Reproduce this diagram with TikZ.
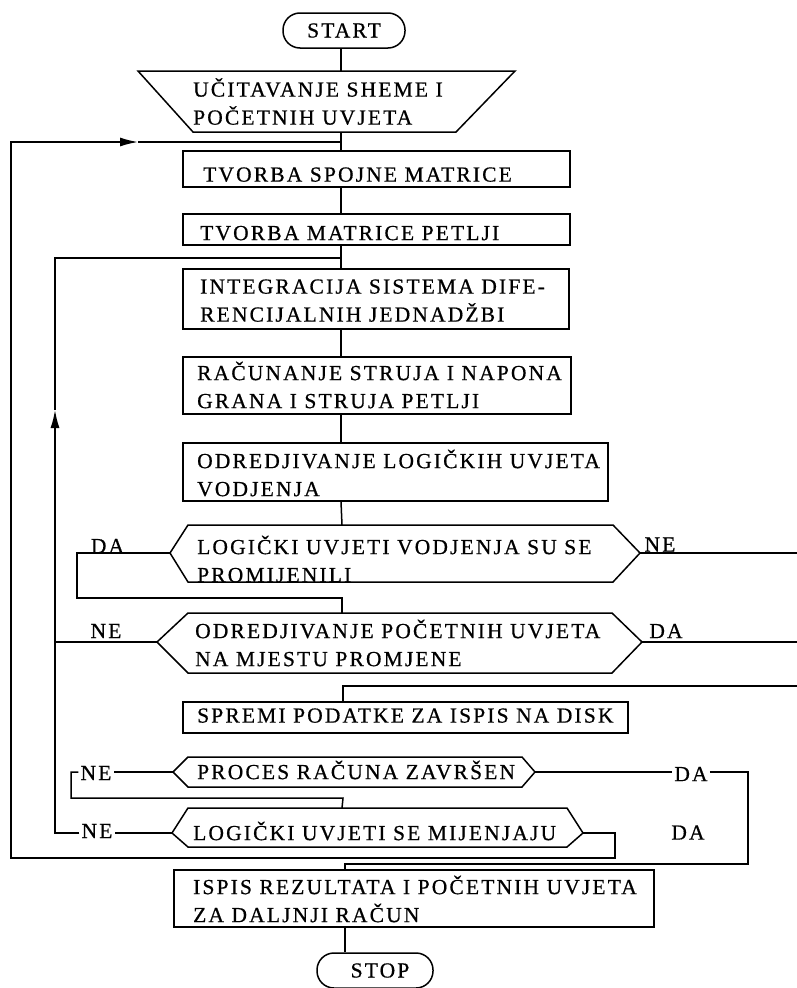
\documentclass[tikz,border=0pt]{standalone}
\usepackage{fontspec}
\setmainfont{Liberation Serif}[LetterSpace=10,FakeBold=0.6]
\usetikzlibrary{arrows.meta}
\newcommand\hexshape[8]{%
  \draw[shapeline] (#5,#4) -- (#6,#2) -- (#7,#2) -- (#8,#4) -- (#7,#3) -- (#6,#3) -- cycle;
  \coordinate (#1-w) at (#5,#4);
  \coordinate (#1-e) at (#8,#4);
  \coordinate (#1-n) at (342,#2);
  \coordinate (#1-s) at (342,#3);}
\begin{document}
\begin{tikzpicture}[x=1pt,y=-1pt,
  shapeline/.style={line width=1.5pt, line join=miter},
  box/.style={draw, line width=1.5pt, inner sep=0pt, rectangle},
  term/.style={draw, line width=1.5pt, rounded corners=17pt, inner sep=0pt, font=\fontsize{21.5}{28}\selectfont},
  conn/.style={line width=1.5pt},
  txt/.style={font=\fontsize{21.5}{28}\selectfont, align=left, anchor=west, inner sep=0pt},
  lab/.style={font=\fontsize{21.5}{28}\selectfont, inner sep=2pt},
  arrowend/.style={-{Latex[length=18pt,width=9pt]}}]
\useasboundingbox (0,0) rectangle (796,988);
\fill[white] (0,0) rectangle (796,988);
\coordinate (mx) at (341,0);
\coordinate (mx2) at (343,0);
\coordinate (mx3) at (345,0);

% shapes
\node[term, minimum width=122pt, minimum height=35pt] (start) at (344,30.5) {START};
\draw[shapeline] (138,71) -- (515,71) -- (456,132) -- (193,132) -- cycle;
\coordinate (in-n) at (341,71);
\coordinate (in-s) at (341,132);
\node[txt] (tin) at (193,105) {\strut UČITAVANJE SHEME I\\\strut POČETNIH UVJETA};

\node[box, minimum width=387pt, minimum height=36pt] (b1) at (376.5,169) {};
\node[txt] (tb1) at (203,176) {\strut TVORBA SPOJNE MATRICE};
\node[box, minimum width=387pt, minimum height=31pt] (b2) at (376.5,229.5) {};
\node[txt] (tb2) at (200,234.5) {\strut TVORBA MATRICE PETLJI};
\node[box, minimum width=386pt, minimum height=60pt] (b3) at (376,299) {};
\node[txt] (tb3) at (200,302) {\strut INTEGRACIJA SISTEMA DIFE-\\\strut RENCIJALNIH JEDNADŽBI};
\node[box, minimum width=388pt, minimum height=57pt] (b4) at (377,385.5) {};
\node[txt] (tb4) at (197,388.5) {\strut RAČUNANJE STRUJA I NAPONA\\\strut GRANA I STRUJA PETLJI};
\node[box, minimum width=425pt, minimum height=58pt] (b5) at (395.5,472) {};
\node[txt] (tb5) at (197,476.5) {\strut ODREDJIVANJE LOGIČKIH UVJETA\\\strut VODJENJA};
\hexshape{d1}{525}{582}{553}{170}{188}{613}{640}
\node[txt] (td1) at (197,562.5) {\strut LOGIČKI UVJETI VODJENJA SU SE\\\strut PROMIJENILI};
\hexshape{d2}{613}{673}{642}{157}{188}{612}{642}
\node[txt] (td2) at (195,646.5) {\strut ODREDJIVANJE POČETNIH UVJETA\\\strut NA MJESTU PROMJENE};
\node[box, minimum width=445pt, minimum height=31pt] (b6) at (405.5,717.5) {};
\node[txt] (tb6) at (197,717) {\strut SPREMI PODATKE ZA ISPIS NA DISK};
\hexshape{d3}{757}{787}{772}{173}{188}{522}{535}
\node[txt] (td3) at (197,773.5) {\strut PROCES RAČUNA ZAVRŠEN};
\hexshape{d4}{808}{847}{833}{172}{188}{567}{583}
\node[txt] (td4) at (193,834.5) {\strut LOGIČKI UVJETI SE MIJENJAJU};
\node[box, minimum width=480pt, minimum height=57pt] (b7) at (414,898.5) {};
\node[txt] (tb7) at (193,902.5) {\strut ISPIS REZULTATA I POČETNIH UVJETA\\\strut ZA DALJNJI RAČUN};
\node[term, minimum width=116pt, minimum height=35pt] (stop) at (375,970.5) {\hspace*{10pt}STOP};

% labels
\node[lab] (l1) at (107.5,546) {DA};
\node[lab] (l2) at (660,544.5) {NE};
\node[lab] (l3) at (106,631) {NE};
\node[lab] (l4) at (666,631) {DA};
\node[lab] (l5) at (96,773) {NE};
\node[lab] (l6) at (691,774) {DA};
\node[lab] (l7) at (97,831) {NE};
\node[lab] (l8) at (688,832.5) {DA};

% junctions
\coordinate (j1) at (341,142);
\coordinate (a1) at (138,142);
\coordinate (j2) at (341,258);
\coordinate (a2) at (55,410);

% main flow
\draw[conn] (start.south -| mx) -- (in-n);
\draw[conn] (in-s) -- (b1.north -| mx);
\draw[conn] (b1.south -| mx) -- (b2.north -| mx);
\draw[conn] (b2.south -| mx) -- (b3.north -| mx);
\draw[conn] (b3.south -| mx) -- (b4.north -| mx);
\draw[conn] (b4.south -| mx) -- (b5.north -| mx);
\draw[conn] (b5.south -| mx) -- (d1-n);
% decision 1
\draw[conn] (d1-w) -- (77,553) -- (77,598) -- (342,598) -- (d2-n);
\draw[conn] (d1-e) -- (800,553) -- (800,686) -- (343,686) -- (b6.north -| mx2);
% decision 2
\draw[conn] (d2-e) -- (800,642);
\draw[conn] (d2-w) -- (55,642);
% process finished
\draw[conn] (d3-w) -- (l5.east |- d3-w);
\draw[conn] (l5.west |- d3-w) -- (71,772) -- (71,798) -- (343,798) -- (d4-n);
\draw[conn] (d3-e) -- (l6.west |- d3-e);
\draw[conn] (l6.east |- d3-e) -- (748,772) -- (748,864) -- (345,864) -- (b7.north -| mx3);
% logic conditions change
\draw[conn] (d4-w) -- (l7.east |- d4-w);
\draw[conn, arrowend] (l7.west |- d4-w) -- (55,833) -- (a2);
\draw[conn] (a2) -- (55,258) -- (j2);
\draw[conn, arrowend] (d4-e) -- (615,833) -- (615,858) -- (11,858) -- (11,142) -- (a1);
\draw[conn] (a1) -- (j1);
% end
\draw[conn] (b7.south -| mx3) -- (stop.north -| mx3);
\end{tikzpicture}
\end{document}
